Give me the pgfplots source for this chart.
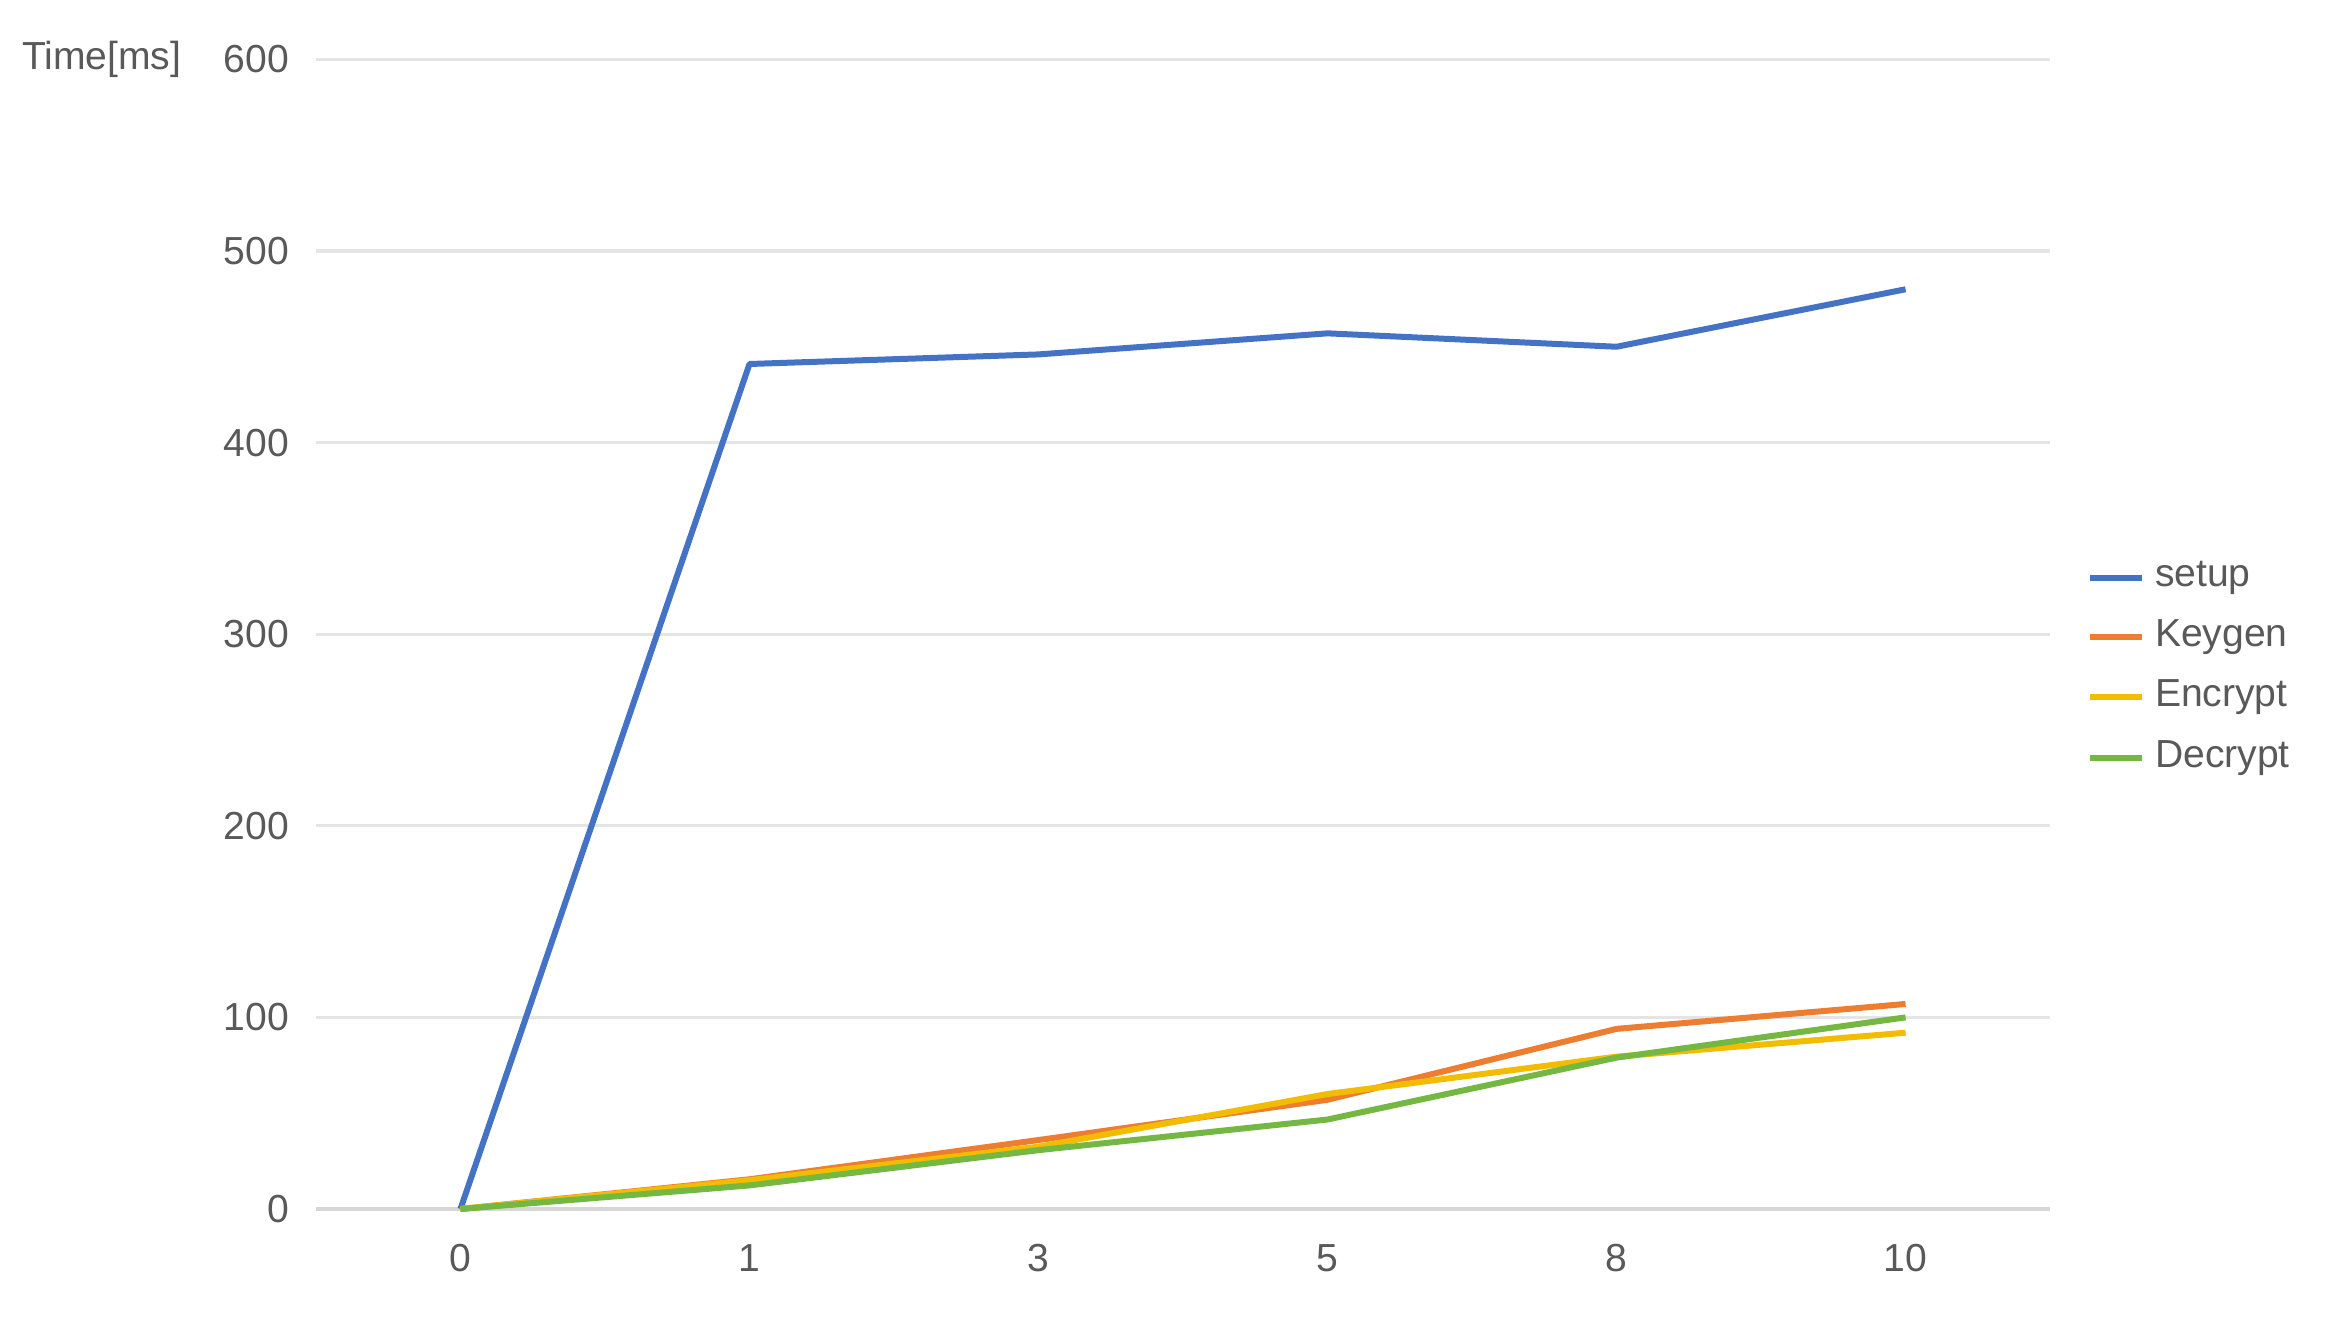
\documentclass[border=0pt]{standalone}
\usepackage{fontspec}
\setmainfont{Liberation Sans}
\usepackage{pgfplots}
\pgfplotsset{compat=1.18}

\definecolor{txt}{HTML}{595959}
\definecolor{gridc}{HTML}{E5E5E5}
\definecolor{basec}{HTML}{D6D6D6}
\definecolor{cSetup}{HTML}{4472C4}
\definecolor{cKeygen}{HTML}{ED7D31}
\definecolor{cEncrypt}{HTML}{F2BC00}
\definecolor{cDecrypt}{HTML}{74B843}

\begin{document}
\begin{tikzpicture}
\useasboundingbox (-2.13cm,-0.77cm) rectangle (13.55cm,8.15cm);
\begin{axis}[%
scale only axis,
width=11.69cm, height=7.75cm,
xmin=-0.5, xmax=5.5,
ymin=0, ymax=600,
xtick={0,1,2,3,4,5},
xticklabels={0,1,3,5,8,10},
ytick={0,100,200,300,400,500,600},
major tick length=0pt,
axis line style={draw=none},
ymajorgrids,
grid style={gridc, line width=0.6pt},
extra y ticks={0},
extra y tick labels={},
extra y tick style={grid style={basec, line width=0.8pt}},
/pgf/number format/assume math mode=true,
ticklabel style={font=\fontsize{7.5}{9}\selectfont, color=txt},
yticklabel style={inner sep=0pt, xshift=-5pt},
xticklabel style={yshift=-3.3pt},
clip=false,
legend style={draw=none, fill=none, inner sep=0pt,
  at={(1.0205,0.4705)}, anchor=west,
  font=\fontsize{7.5}{9}\selectfont, text=txt,
  row sep=0.9pt},
legend cell align=left,
legend image code/.code={\draw[#1] (0cm,0cm) -- (0.35cm,0cm);},
every axis plot/.append style={line width=1.15pt, line join=round},
]
\addplot[cSetup] coordinates {(0,0) (1,441) (2,446) (3,457) (4,450) (5,480)};
\addlegendentry{setup}
\addplot[cKeygen] coordinates {(0,0) (1,15.5) (2,36) (3,57) (4,94) (5,107)};
\addlegendentry{Keygen}
\addplot[cEncrypt] coordinates {(0,0) (1,15) (2,32.5) (3,60) (4,79.5) (5,92)};
\addlegendentry{Encrypt}
\addplot[cDecrypt] coordinates {(0,0) (1,12.3) (2,30.7) (3,46.7) (4,79) (5,100)};
\addlegendentry{Decrypt}

\node[anchor=east, inner sep=0pt, font=\fontsize{7.5}{9}\selectfont, text=txt]
  at (rel axis cs:0,1) [xshift=-9mm] {Time[ms]};
\end{axis}
\end{tikzpicture}
\end{document}
